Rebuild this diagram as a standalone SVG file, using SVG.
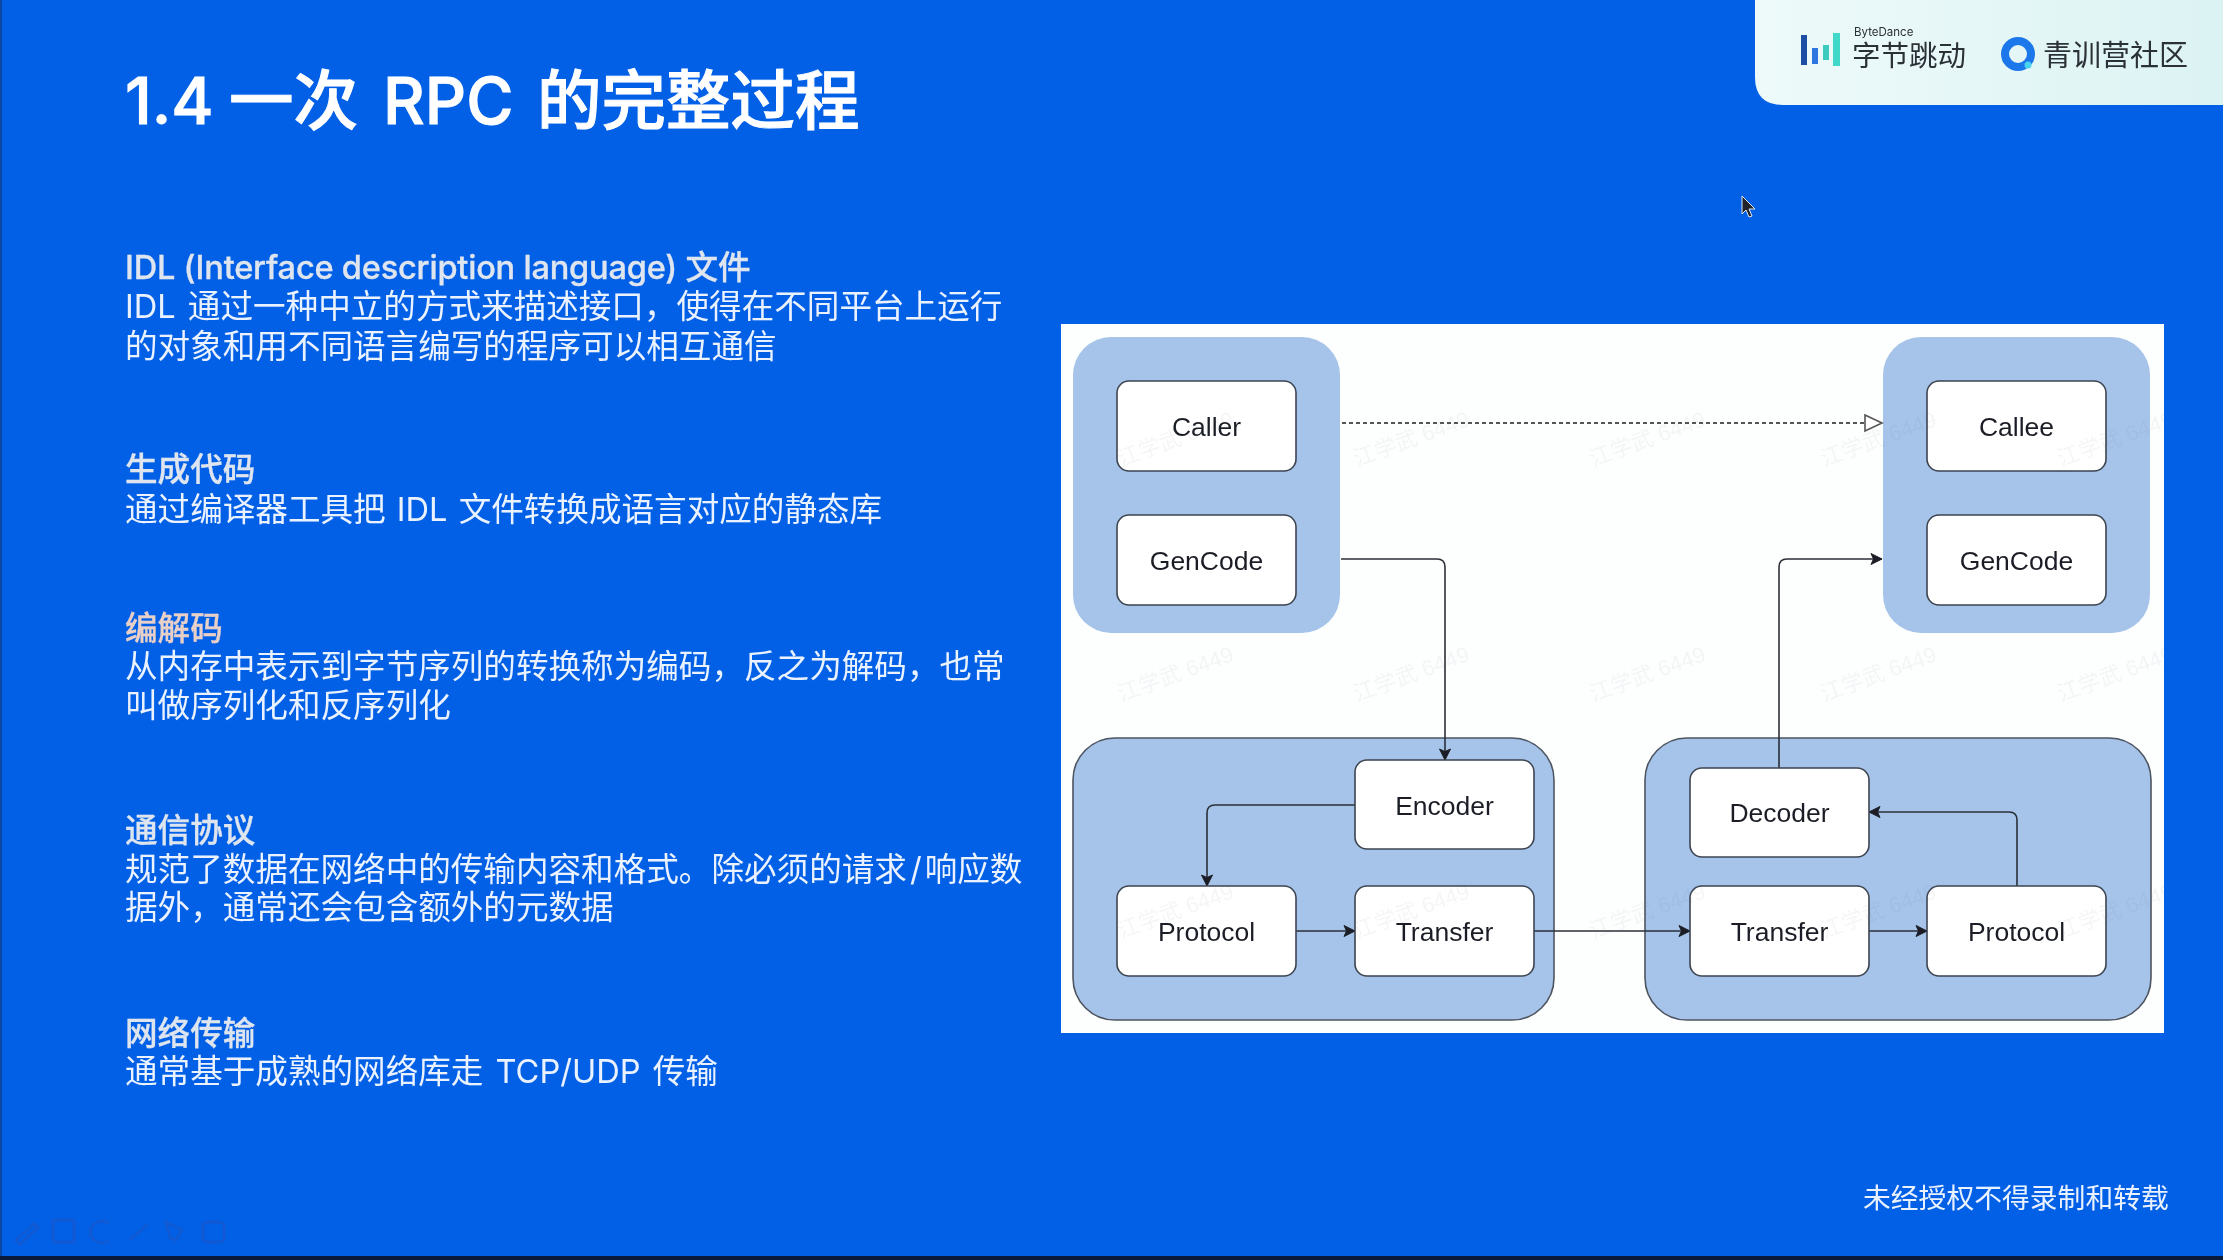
<svg xmlns="http://www.w3.org/2000/svg" width="2223" height="1260" viewBox="0 0 2223 1260">
<defs>
<linearGradient id="logoBg" x1="0" y1="0" x2="1" y2="0"><stop offset="0" stop-color="#eefafa"/><stop offset="1" stop-color="#dcf3f3"/></linearGradient>
<marker id="arr" markerUnits="userSpaceOnUse" markerWidth="14" markerHeight="14" refX="12" refY="7" orient="auto"><path d="M1,1.5 L12,7 L1,12.5 L3.5,7 Z" fill="#1c1f26" stroke="#1c1f26" stroke-width="1"/></marker>
<marker id="hollow" markerUnits="userSpaceOnUse" markerWidth="22" markerHeight="20" refX="19" refY="10" orient="auto"><path d="M2,2 L19,10 L2,18 Z" fill="#fff" stroke="#555" stroke-width="1.6"/></marker>
<clipPath id="panelClip"><rect x="1061" y="325" width="1103" height="708"/></clipPath>
<filter id="soft" filterUnits="userSpaceOnUse" x="0" y="0" width="2223" height="1260"><feGaussianBlur stdDeviation="0.6"/></filter>
</defs>
<style>
text{font-family:"Inter","Liberation Sans","Noto Sans CJK SC",sans-serif}
.h{font-size:32.6px;font-weight:500;fill:#dfe5ef;stroke:#dfe5ef;stroke-width:.3}
.b{font-size:32.6px;font-weight:400;fill:#eaf2ff;word-spacing:3px}
.grp{fill:#a6c3ea}
.grps{fill:#a6c3ea;stroke:#4d5560;stroke-width:1.6}
.box{fill:#fff;stroke:#3d4450;stroke-width:1.6}
.lb{font-family:"Liberation Sans",sans-serif;font-size:26.5px;fill:#1c1f26;text-anchor:middle}
.c{fill:none;stroke:#2b3038;stroke-width:1.6}
.wm{font-family:"Liberation Sans","Noto Sans CJK SC",sans-serif;font-size:22px;fill:#55606e;opacity:.055;text-anchor:middle}
.ic{fill:none;stroke:#1b55c2;stroke-width:3;opacity:.55}
</style>
<rect width="2223" height="1260" fill="#0260e6"/>
<rect x="0" y="0" width="2" height="1256" fill="#0d479f"/>
<rect x="0" y="1256" width="2223" height="4" fill="#0a1a3a"/>

<g id="slide" filter="url(#soft)">
<text x="125" y="124" style="font-size:64.5px;font-weight:500;stroke:#fff;stroke-width:1" fill="#fff"><tspan x="125">1.4</tspan> <tspan x="229">一次</tspan> <tspan x="383">RPC</tspan> <tspan x="537">的完整过程</tspan></text>

<g id="logo">
<path d="M1755,0 H2223 V105 H1783 Q1755,105 1755,77 Z" fill="url(#logoBg)"/>
<rect x="1801" y="35" width="6" height="30" fill="#1b4fa3"/>
<rect x="1812" y="48" width="6" height="16" fill="#2f74e0"/>
<rect x="1823" y="45" width="6" height="15" fill="#3ecbc0"/>
<rect x="1833" y="33" width="7" height="33" fill="#3fd8c8"/>
<text x="1854" y="36" style="font-size:11.5px" fill="#2b3038">ByteDance</text>
<text x="1852" y="66" style="font-size:28.5px" fill="#2b3038">字节跳动</text>
<circle cx="2018" cy="54" r="13" fill="none" stroke="#1e78ea" stroke-width="8"/>
<circle cx="2028" cy="65" r="3.5" fill="#49d3ee"/>
<text x="2043" y="66" style="font-size:29px" fill="#2b3038">青训营社区</text>
</g>

<path id="cursor" d="M1742,196 L1742,214 L1746,210 L1749,217 L1752,216 L1749,209 L1755,209 Z" fill="#20242c" stroke="#dfe8f5" stroke-width="1"/>

<g id="text-idl">
<text class="h" x="125" y="279"><tspan style="letter-spacing:-.22px">IDL (Interface description language) </tspan>文件</text>
<text class="b" x="125" y="318">IDL 通过一种中立的方式来描述接口，使得在不同平台上运行</text>
<text class="b" x="125" y="358">的对象和用不同语言编写的程序可以相互通信</text>
</g>
<g id="text-gen">
<text class="h" x="125" y="481">生成代码</text>
<text class="b" x="125" y="521" style="word-spacing:2px">通过编译器工具把 IDL 文件转换成语言对应的静态库</text>
</g>
<g id="text-codec">
<text class="h" x="125" y="640" style="fill:#e8cfc8;stroke:#e8cfc8">编解码</text>
<text class="b" x="125" y="678">从内存中表示到字节序列的转换称为编码，反之为解码，也常</text>
<text class="b" x="125" y="717">叫做序列化和反序列化</text>
</g>
<g id="text-proto">
<text class="h" x="125" y="842">通信协议</text>
<text class="b" x="125" y="881">规范了数据在网络中的传输内容和格式。除必须的请求<tspan dx="3">/</tspan><tspan dx="3">响应数</tspan></text>
<text class="b" x="125" y="919">据外，通常还会包含额外的元数据</text>
</g>
<g id="text-net">
<text class="h" x="125" y="1045">网络传输</text>
<text class="b" x="125" y="1083">通常基于成熟的网络库走 TCP/UDP 传输</text>
</g>
<text x="1863" y="1208" style="font-size:27.8px" fill="#eaf2ff">未经授权不得录制和转载</text>

<g id="toolbar">
<path class="ic" d="M16,1240 L34,1224 L38,1228 L20,1244 Z"/>
<rect class="ic" x="53" y="1220" width="21" height="22" rx="2"/>
<path class="ic" d="M109,1224 A11,11 0 1 0 109,1240"/>
<path class="ic" d="M130,1240 L148,1224"/>
<path class="ic" d="M166,1222 L182,1230 L176,1240 L170,1238 Z"/>
<rect class="ic" x="203" y="1222" width="21" height="20" rx="4"/>
</g>

<rect id="panel" x="1061" y="324" width="1103" height="709" fill="#fdfefe"/>

<g id="group-caller"><rect class="grp" x="1073" y="337" width="267" height="296" rx="38"/></g>
<g id="group-callee"><rect class="grp" x="1883" y="337" width="267" height="296" rx="38"/></g>
<g id="group-client"><rect class="grps" x="1073" y="738" width="481" height="282" rx="42"/></g>
<g id="group-server"><rect class="grps" x="1645" y="738" width="506" height="282" rx="42"/></g>

<g id="connectors">
<path class="c" d="M1342,423 H1882" stroke-dasharray="4 3" style="stroke:#555;stroke-width:2" marker-end="url(#hollow)"/>
<path class="c" d="M1341,559 H1437 Q1445,559 1445,567 V760" marker-end="url(#arr)"/>
<path class="c" d="M1355,805 H1215 Q1207,805 1207,813 V886" marker-end="url(#arr)"/>
<path class="c" d="M1296,931 H1355" marker-end="url(#arr)"/>
<path class="c" d="M1534,931 H1690" marker-end="url(#arr)"/>
<path class="c" d="M1868,931 H1927" marker-end="url(#arr)"/>
<path class="c" d="M2017,886 V820 Q2017,812 2009,812 H1869" marker-end="url(#arr)"/>
<path class="c" d="M1779,768 V567 Q1779,559 1787,559 H1882" marker-end="url(#arr)"/>
</g>

<g id="node-caller"><rect class="box" x="1117" y="381" width="179" height="90" rx="12"/><text class="lb" x="1206.5" y="436">Caller</text></g>
<g id="node-gencode-a"><rect class="box" x="1117" y="515" width="179" height="90" rx="12"/><text class="lb" x="1206.5" y="570">GenCode</text></g>
<g id="node-callee"><rect class="box" x="1927" y="381" width="179" height="90" rx="12"/><text class="lb" x="2016.5" y="436">Callee</text></g>
<g id="node-gencode-b"><rect class="box" x="1927" y="515" width="179" height="90" rx="12"/><text class="lb" x="2016.5" y="570">GenCode</text></g>
<g id="node-encoder"><rect class="box" x="1355" y="760" width="179" height="89" rx="12"/><text class="lb" x="1444.5" y="815">Encoder</text></g>
<g id="node-protocol-a"><rect class="box" x="1117" y="886" width="179" height="90" rx="12"/><text class="lb" x="1206.5" y="941">Protocol</text></g>
<g id="node-transfer-a"><rect class="box" x="1355" y="886" width="179" height="90" rx="12"/><text class="lb" x="1444.5" y="941">Transfer</text></g>
<g id="node-decoder"><rect class="box" x="1690" y="768" width="179" height="89" rx="12"/><text class="lb" x="1779.5" y="822">Decoder</text></g>
<g id="node-transfer-b"><rect class="box" x="1690" y="886" width="179" height="90" rx="12"/><text class="lb" x="1779.5" y="941">Transfer</text></g>
<g id="node-protocol-b"><rect class="box" x="1927" y="886" width="179" height="90" rx="12"/><text class="lb" x="2016.5" y="941">Protocol</text></g>

<g id="watermarks" clip-path="url(#panelClip)">
<text class="wm" transform="translate(1178,446) rotate(-20)">江学武 6449</text>
<text class="wm" transform="translate(1414,446) rotate(-20)">江学武 6449</text>
<text class="wm" transform="translate(1650,446) rotate(-20)">江学武 6449</text>
<text class="wm" transform="translate(1881,446) rotate(-20)">江学武 6449</text>
<text class="wm" transform="translate(2118,446) rotate(-20)">江学武 6449</text>
<text class="wm" transform="translate(1178,681) rotate(-20)">江学武 6449</text>
<text class="wm" transform="translate(1414,681) rotate(-20)">江学武 6449</text>
<text class="wm" transform="translate(1650,681) rotate(-20)">江学武 6449</text>
<text class="wm" transform="translate(1881,681) rotate(-20)">江学武 6449</text>
<text class="wm" transform="translate(2118,681) rotate(-20)">江学武 6449</text>
<text class="wm" transform="translate(1178,918) rotate(-20)">江学武 6449</text>
<text class="wm" transform="translate(1414,918) rotate(-20)">江学武 6449</text>
<text class="wm" transform="translate(1650,918) rotate(-20)">江学武 6449</text>
<text class="wm" transform="translate(1881,918) rotate(-20)">江学武 6449</text>
<text class="wm" transform="translate(2118,918) rotate(-20)">江学武 6449</text>
</g>
</g>
</svg>
